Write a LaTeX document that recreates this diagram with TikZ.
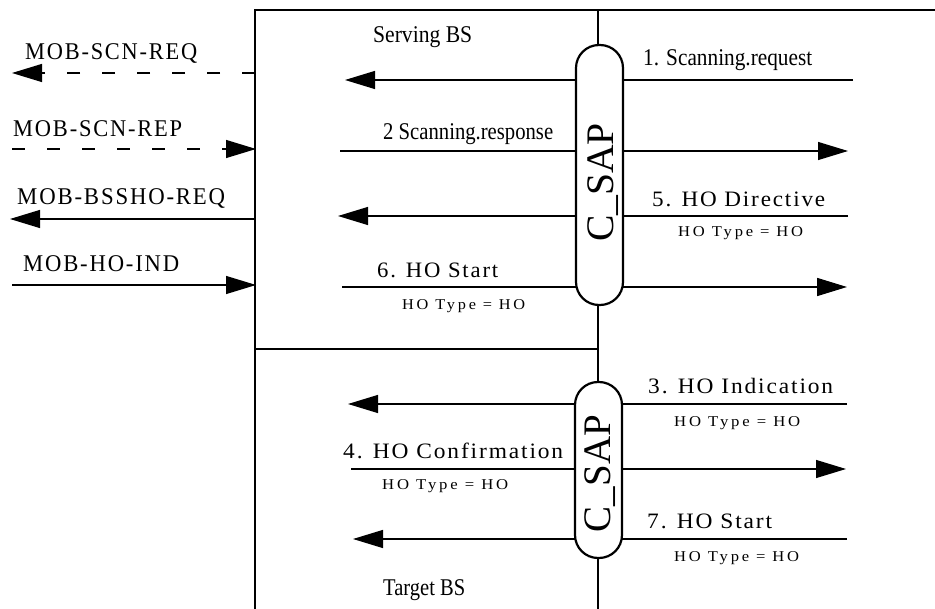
\documentclass[tikz,border=0pt]{standalone}
\usepackage{fontspec}
\setmainfont{Liberation Serif}
\newfontfamily\spacedfont[LetterSpace=8]{Liberation Serif}
\newfontfamily\widefont[LetterSpace=17]{Liberation Serif}
\usetikzlibrary{arrows.meta}
\newcommand\fitw[2]{\resizebox{#1pt}{\height}{#2}}
\begin{document}
\begin{tikzpicture}[x=1pt,y=-1pt,
  line/.style={line width=1.2pt, draw=black},
  msg/.style={line, -{Triangle[length=30pt,width=18pt]}},
  dmsg/.style={msg, dash pattern=on 13pt off 22pt},
  lbl/.style={inner sep=0pt, anchor=base west},
  plain/.style={lbl, font=\fontsize{24}{24}\selectfont},
  mob/.style={lbl, font=\spacedfont\fontsize{24}{24}\selectfont},
  ho/.style={lbl, font=\spacedfont\fontsize{22}{22}\selectfont},
  hotype/.style={lbl, font=\widefont\fontsize{15}{15}\selectfont},
  pill/.style={draw, fill=white, line width=2.2pt, rounded corners=23pt, inner sep=0pt, minimum width=47pt},
  sap/.style={inner sep=0pt, rotate=90, anchor=base, font=\fontsize{39}{39}\selectfont}
]
\useasboundingbox (0,0) rectangle (935,609);
% frame
\coordinate (tl) at (255,10);
\coordinate (tr) at (935,10);
\coordinate (bl) at (255,609);
\coordinate (vt) at (598,10);
\coordinate (vb) at (598,609);
\coordinate (dl) at (255,349);
\coordinate (dr) at (598,349);
\draw[line] (tr) -- (tl) -- (bl);
\draw[line] (vt) -- (vb);
\draw[line] (dl) -- (dr);
% message end points
\coordinate (a1s) at (853,80);  \coordinate (a1e) at (345,80);
\coordinate (a2s) at (340,151); \coordinate (a2e) at (848,151);
\coordinate (a3s) at (848,216); \coordinate (a3e) at (338,216);
\coordinate (a4s) at (342,287); \coordinate (a4e) at (847,287);
\coordinate (m1s) at (255,73);  \coordinate (m1e) at (12,73);
\coordinate (m2s) at (12,149);  \coordinate (m2e) at (256,149);
\coordinate (m3s) at (255,219); \coordinate (m3e) at (10,219);
\coordinate (m4s) at (12,285);  \coordinate (m4e) at (256,285);
\coordinate (b1s) at (847,404); \coordinate (b1e) at (348,404);
\coordinate (b2s) at (351,469); \coordinate (b2e) at (846,469);
\coordinate (b3s) at (847,539); \coordinate (b3e) at (353,539);
% messages
\draw[msg] (a1s) -- (a1e);
\draw[msg] (a2s) -- (a2e);
\draw[msg] (a3s) -- (a3e);
\draw[msg, line width=1.6pt] (a4s) -- (a4e);
\draw[dmsg] (m1s) -- (m1e);
\draw[dmsg] (m2s) -- (m2e);
\draw[msg] (m3s) -- (m3e);
\draw[msg] (m4s) -- (m4e);
\draw[msg] (b1s) -- (b1e);
\draw[msg] (b2s) -- (b2e);
\draw[msg] (b3s) -- (b3e);
% C_SAP pills
\node[pill, minimum height=260pt] (sap1) at (599.5,175) {};
\node[pill, minimum height=176pt] (sap2) at (598.5,470) {};
\node[sap] (csap1) at (613,182.5) {\fitw{119}{C\_SAP}};
\node[sap] (csap2) at (610,473.5) {\fitw{117}{C\_SAP}};
% labels
\node[plain] (tserv) at (373,43) {\fitw{99}{Serving BS}};
\node[plain] (t1) at (643,66) {\fitw{169}{1. Scanning.request}};
\node[plain] (t2) at (383,140) {\fitw{170}{2 Scanning.response}};
\node[ho] (t5) at (652,207) {\fitw{173}{5. HO Directive}};
\node[hotype] (t5b) at (678,237) {\fitw{125}{HO Type = HO}};
\node[ho] (t6) at (377,278) {\fitw{121}{6. HO Start}};
\node[hotype] (t6b) at (402,310) {\fitw{123}{HO Type = HO}};
\node[mob] (tm1) at (25,60) {\fitw{172}{MOB-SCN-REQ}};
\node[mob] (tm2) at (13,137) {\fitw{169}{MOB-SCN-REP}};
\node[mob] (tm3) at (17,205) {\fitw{208}{MOB-BSSHO-REQ}};
\node[mob] (tm4) at (23,272) {\fitw{156}{MOB-HO-IND}};
\node[ho] (t3) at (648,394) {\fitw{185}{3. HO Indication}};
\node[hotype] (t3b) at (674,427) {\fitw{126}{HO Type = HO}};
\node[ho] (t4) at (343,459) {\fitw{220}{4. HO Confirmation}};
\node[hotype] (t4b) at (382,490) {\fitw{126}{HO Type = HO}};
\node[ho] (t7) at (647,529) {\fitw{125}{7. HO Start}};
\node[hotype] (t7b) at (674,561) {\fitw{125}{HO Type = HO}};
\node[plain] (ttgt) at (383,595) {\fitw{82}{Target BS}};
\end{tikzpicture}
\end{document}
